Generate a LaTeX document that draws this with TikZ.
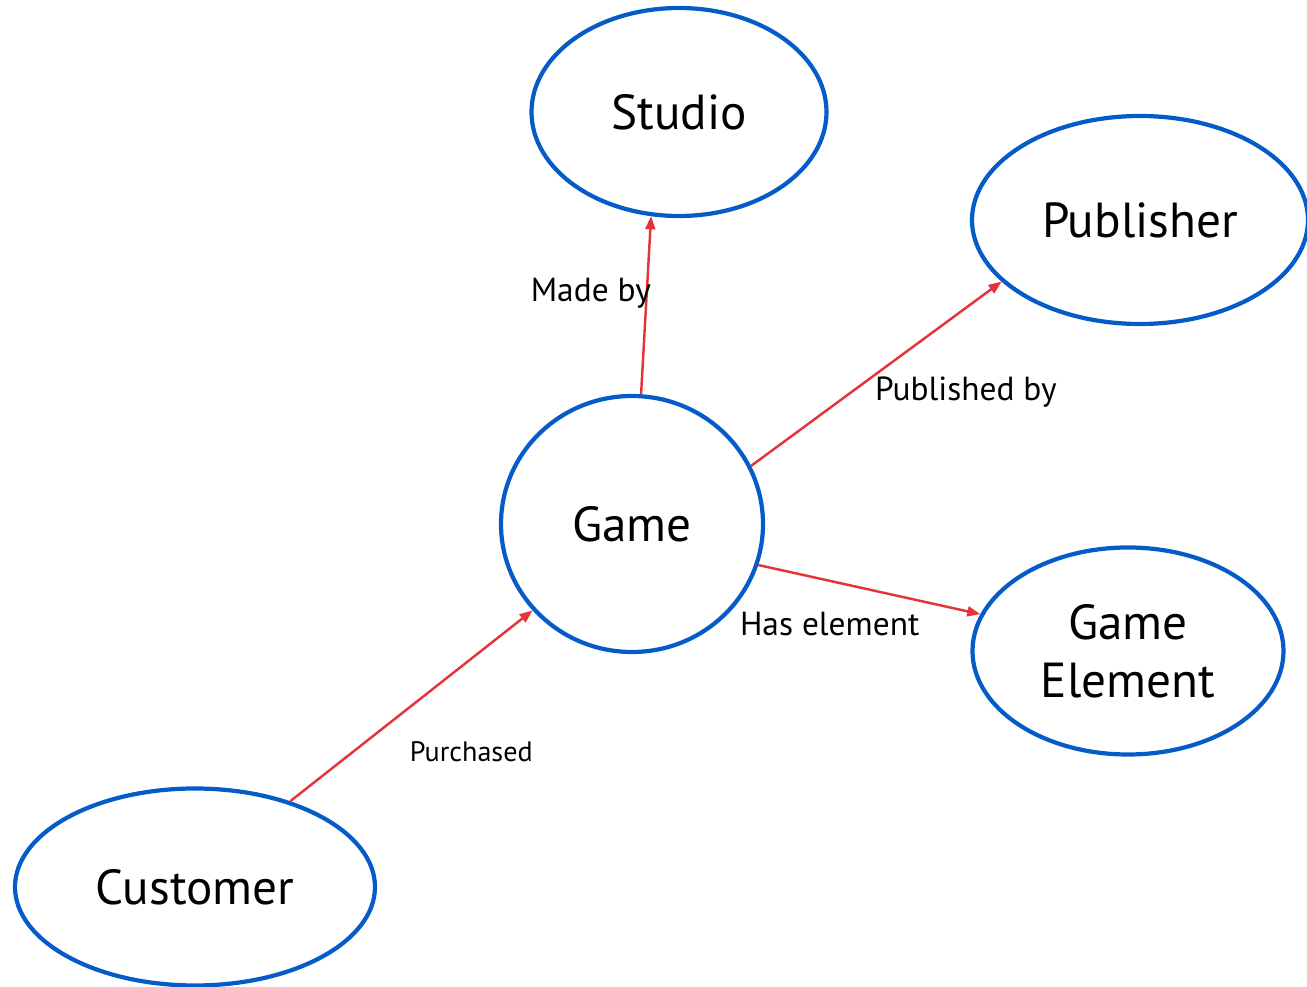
\documentclass[tikz,border=0pt]{standalone}
\usepackage{fontspec}
\setmainfont{PT Sans}
\usetikzlibrary{arrows.meta, positioning, calc, shapes.geometric}

\definecolor{entityblue}{RGB}{5,92,200}
\definecolor{relred}{RGB}{228,52,58}

\begin{document}
\begin{tikzpicture}[>={Triangle[length=1.3mm, width=1mm]},
  entity/.style={draw=entityblue, ellipse, line width=1.2pt, inner sep=0pt, font=\fontsize{14}{15}\selectfont, align=center},
  relation/.style={->, draw=relred, line width=0.7pt},
  rellabel/.style={draw=none, fill=none, inner sep=1pt, font=\fontsize{9.5}{11}\selectfont}]

  % Fix the page to the size of the reference
  \useasboundingbox (0,0) rectangle (13.07,9.87);

  % Define positions for the entities
  \node[entity, minimum width=2.95cm, minimum height=2.08cm] (studio) at (6.79,8.75) {Studio};
  \node[entity, minimum width=3.36cm, minimum height=2.08cm] (publisher) at (11.40,7.67) {Publisher};
  \node[entity, minimum width=2.62cm, minimum height=2.56cm] (game) at (6.32,4.63) {Game};
  \node[entity, minimum width=3.11cm, minimum height=2.07cm] (element) at (11.28,3.36) {Game\\[1.5pt]Element};
  \node[entity, minimum width=3.60cm, minimum height=1.97cm] (customer) at (1.95,1.00) {Customer};

  % Draw the relations going out of the game
  \draw[relation] (game.86.5) -- (studio.255.4)
    node[rellabel, pos=0.57, anchor=east, inner sep=0pt, xshift=1.5pt] (madeby) {Made by};
  \draw[relation] (game.26.2) -- (publisher.204.3)
    node[rellabel, pos=0.49, anchor=north west, inner sep=0pt] (publishedby) {Published by};
  \draw[relation] (game.342.8) -- (element.166.5)
    node[rellabel, pos=0, anchor=north west, xshift=-0.23cm, yshift=-0.42cm] (haselement) {Has element};

  % Draw the relation coming into the game
  \draw[relation] (customer.42.4) -- (game.221.1)
    node[rellabel, pos=0.26, anchor=west, xshift=0.52cm, font=\fontsize{8}{10}\selectfont] (purchased) {Purchased};

\end{tikzpicture}
\end{document}
